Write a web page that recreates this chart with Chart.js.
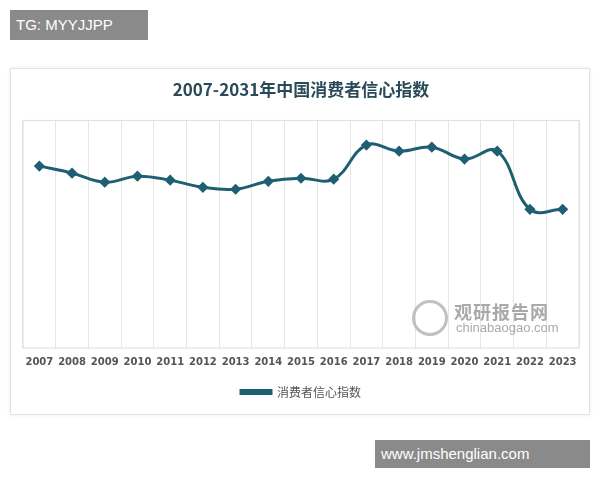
<!DOCTYPE html>
<html><head><meta charset="utf-8">
<script src="https://cdn.jsdelivr.net/npm/chart.js@4"></script>
<style>
body{margin:0;width:600px;height:480px;background:#fff;position:relative;font-family:"Noto Sans CJK SC","Noto Sans",sans-serif;overflow:hidden}
#card{position:absolute;left:10px;top:68px;width:578px;height:345px;border:1px solid #e2e2e2;background:#fff;box-shadow:0 0 4px rgba(0,0,0,0.08)}
#tg{position:absolute;left:10px;top:10px;width:138px;height:30px;background:#8a8a8a;color:#fff;font:15px "Liberation Sans",Arial,sans-serif;line-height:30px;padding-left:6px;box-sizing:border-box}
#site{position:absolute;left:375px;top:440px;width:215px;height:28px;background:#8a8a8a;color:#fff;font:15px "Liberation Sans",Arial,sans-serif;line-height:28px;padding-left:6px;box-sizing:border-box}
#wm{position:absolute;left:412px;top:298px;color:#9a9a9a;opacity:0.85}
#wm .a{position:absolute;left:42px;top:0;font:bold 18px "Noto Sans CJK SC";white-space:nowrap;letter-spacing:1px}
#wm .b{position:absolute;left:44px;top:22px;font:13px "Liberation Sans",Arial;white-space:nowrap}
#wm .c{position:absolute;left:0;top:2px;width:36px;height:36px;border-radius:50%;border:3px solid #b5b5b5;box-sizing:border-box}
</style></head><body>
<div id="card"><canvas id="c" width="578" height="345"></canvas></div>
<div id="wm"><div class="c"></div><div class="a">观研报告网</div><div class="b">chinabaogao.com</div></div>
<div id="tg">TG: MYYJJPP</div>
<div id="site">www.jmshenglian.com</div>
<script>
const years=["2007","2008","2009","2010","2011","2012","2013","2014","2015","2016","2017","2018","2019","2020","2021","2022","2023"];
const confidence=[110.9,107.2,102.4,105.6,103.5,99.7,98.7,102.9,104.5,104.0,122.0,118.8,120.9,114.6,118.8,88.1,88.1];
const seriesName="消费者信心指数";
const titleText="2007-2031年中国消费者信心指数";
const frame={id:'frame',beforeDatasetsDraw(ch){const a=ch.chartArea,x=ch.ctx;x.save();x.strokeStyle='#dcdcdc';x.lineWidth=1;x.strokeRect(a.left,a.top,a.right-a.left,a.bottom-a.top);x.restore();}};
new Chart(document.getElementById('c'),{type:'line',
data:{labels:years,datasets:[{label:seriesName,data:confidence,borderColor:'#1f5f73',backgroundColor:'#1f5f73',borderWidth:3,tension:0.4,pointStyle:'rectRot',pointRadius:3.5,pointHoverRadius:3.5}]},
options:{responsive:false,animation:false,
layout:{padding:{left:12,right:10,top:4,bottom:6}},
plugins:{title:{display:true,text:titleText,color:'#2a4a58',font:{size:17,weight:'bold',family:'"Noto Sans CJK SC"'},padding:{top:6,bottom:21}},
legend:{position:'bottom',labels:{usePointStyle:false,boxWidth:30,boxHeight:3,color:'#555',font:{size:12,family:'"Noto Sans CJK SC"'}}},tooltip:{enabled:false}},
scales:{x:{offset:true,grid:{color:'#e6e6e6',offset:true,drawTicks:false},border:{display:false},ticks:{color:'#555',font:{size:10,weight:'bold',family:'"DejaVu Sans"'},padding:8,maxRotation:0,autoSkip:false}},
y:{display:false,min:15,max:135}}},
plugins:[frame]});
</script></body></html>
